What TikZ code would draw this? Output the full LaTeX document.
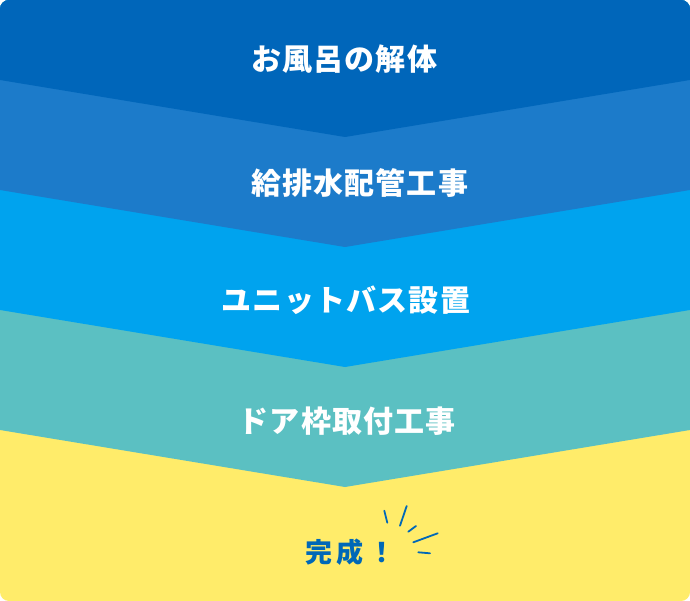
\documentclass[tikz,border=0pt]{standalone}
\usepackage{fontspec}
\newfontfamily\jp{Noto Sans CJK JP}[LetterSpace=4]
\newfontfamily\jpwide{Noto Sans CJK JP}[LetterSpace=18]
\definecolor{bandA}{HTML}{0066BA}
\definecolor{bandB}{HTML}{1C7BCA}
\definecolor{bandC}{HTML}{00A3EE}
\definecolor{bandD}{HTML}{5BC0C2}
\definecolor{bandE}{HTML}{FFEC6A}
\definecolor{doneblue}{HTML}{0068B7}
\tikzset{
  steplabel/.style={text=white, font=\jp\bfseries\fontsize{30}{32}\selectfont, inner sep=0pt, anchor=base},
  donelabel/.style={text=doneblue, font=\jpwide\bfseries\fontsize{27}{29}\selectfont, inner sep=0pt, anchor=base},
  spark/.style={draw=doneblue, line width=1.8pt, line cap=round}
}
\begin{document}
\begin{tikzpicture}[x=1pt,y=-1pt]
\useasboundingbox (0,0) rectangle (690,601);
\begin{scope}
\clip[rounded corners=9pt] (0,0) rectangle (690,601);
\fill[bandE] (0,0) rectangle (690,601);
\fill[bandD] (0,0) -- (0,430) -- (345,487) -- (690,430) -- (690,0) -- cycle;
\fill[bandC] (0,0) -- (0,310) -- (345,367) -- (690,310) -- (690,0) -- cycle;
\fill[bandB] (0,0) -- (0,190) -- (345,247) -- (690,190) -- (690,0) -- cycle;
\fill[bandA] (0,0) -- (0,80) -- (345,137) -- (690,80) -- (690,0) -- cycle;
\end{scope}
\node[steplabel] (s1) at (344.1,71) {お風呂の解体};
\node[steplabel] (s2) at (359.6,194.5) {給排水配管工事};
\node[steplabel] (s3) at (346,312) {ユニットバス設置};
\node[steplabel] (s4) at (347.3,432.5) {ドア枠取付工事};
\node[donelabel] (s5) at (350.5,562) {完成！};
\draw[spark] (384.3,510.7) -- (387.3,522.7);
\draw[spark] (406.7,506) -- (400,525.7);
\draw[spark] (416,526) -- (408.3,531.7);
\draw[spark] (437.7,533.3) -- (413.3,542.3);
\draw[spark] (418.3,552.3) -- (430,553.3);
\end{tikzpicture}
\end{document}
